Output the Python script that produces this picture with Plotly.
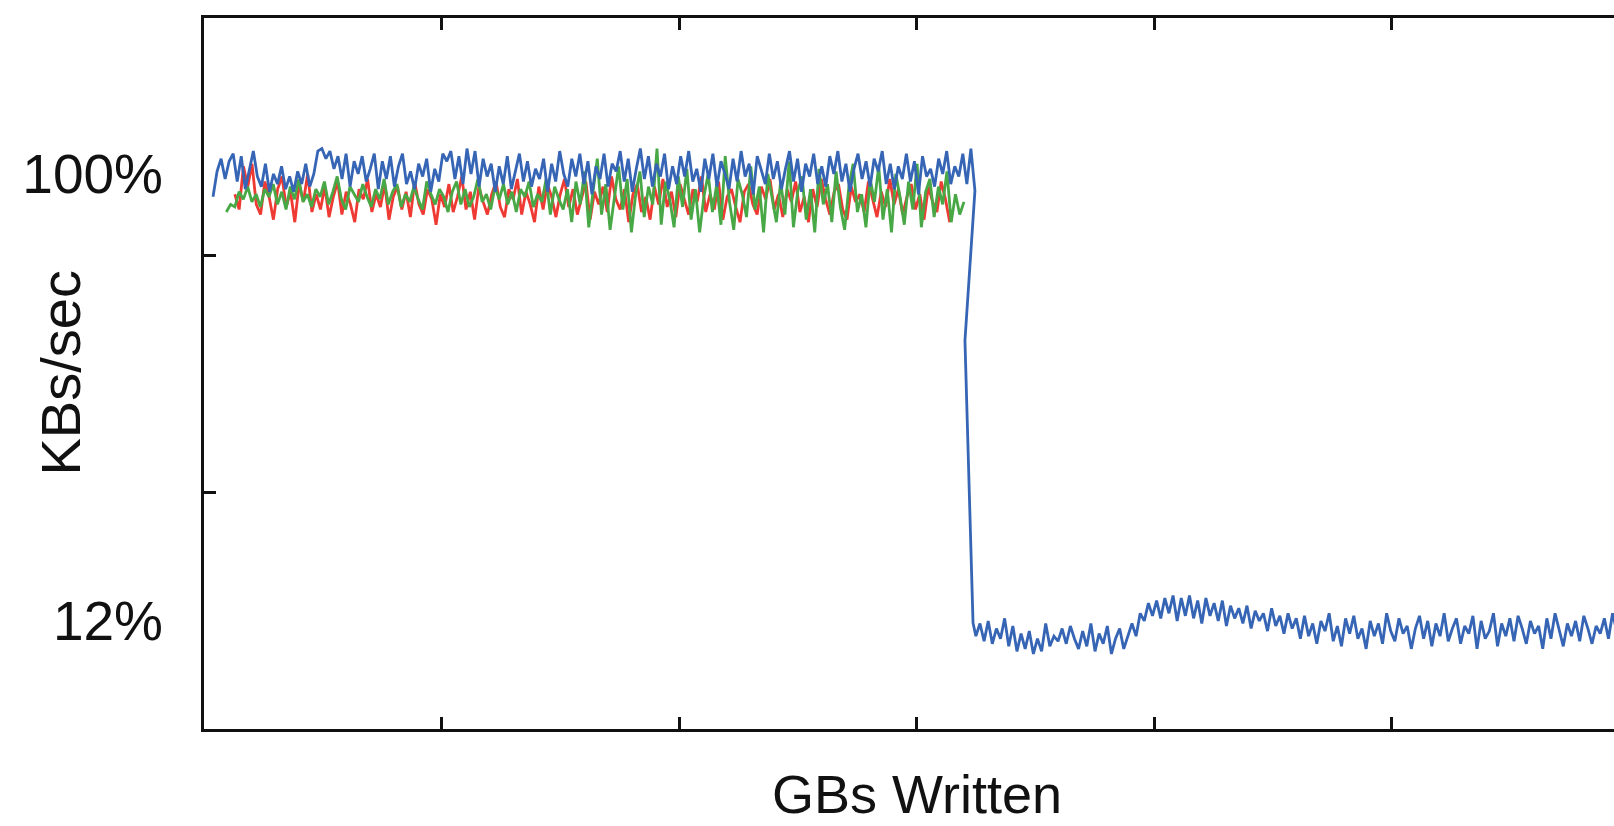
import numpy as np
import plotly.graph_objects as go

# ---------------- data ----------------
# x in "GBs written" tick units (ticks at 1..5), y in % of full throughput

blue_high_start, blue_high_end = 0.038, 3.246
blue_high = [
    95.5, 100.5, 103.0, 99.0, 102.5, 104.0, 98.5, 103.5, 97.0, 101.0,
    104.5, 99.5, 97.5, 102.0, 96.5, 100.0, 98.0, 101.5, 97.0, 99.5,
    96.5, 100.5, 98.0, 102.0, 97.5, 100.0, 104.5, 105.0, 103.0, 104.5,
    101.0, 103.5, 99.0, 104.0, 97.5, 102.5, 100.0, 103.5, 98.5, 101.0,
    104.0, 97.0, 102.5, 99.0, 103.5, 97.5, 101.5, 104.0, 98.0, 100.5,
    97.0, 102.0, 99.5, 103.0, 96.5, 101.0, 98.5, 104.0, 102.5, 104.5,
    99.0, 103.5, 98.0, 105.0, 100.0, 104.5, 97.5, 103.0, 99.5, 102.0,
    96.5, 101.5, 98.0, 103.5, 97.0, 100.5, 104.0, 98.5, 102.5, 97.5,
    101.0, 99.0, 103.0, 96.5, 102.0, 98.5, 104.5, 100.0, 97.5, 103.0,
    99.5, 104.0, 98.0, 102.5, 96.0, 101.5, 99.0, 104.0, 97.5, 102.0,
    100.5, 104.5, 98.5, 103.0, 96.5, 101.0, 105.0, 99.0, 103.5, 97.5,
    102.0, 99.5, 104.0, 97.0, 101.5, 98.0, 103.5, 99.5, 104.5, 98.5,
    101.0, 96.5, 103.0, 99.0, 104.0, 97.5, 102.5, 100.0, 97.0, 103.0,
    98.5, 104.5, 99.5, 102.0, 96.0, 103.5, 100.5, 98.0, 104.0, 99.0,
    102.5, 97.0, 101.0, 104.5, 98.5, 103.0, 96.5, 102.0, 99.5, 104.0,
    98.0, 101.5, 97.5, 103.5, 100.0, 104.5, 98.5, 102.0, 96.5, 101.0,
    104.0, 99.0, 102.5, 97.5, 103.0, 100.5, 104.5, 98.0, 102.0, 97.0,
    101.5, 99.0, 104.0, 98.5, 102.5, 96.0, 103.5, 99.5, 101.0, 97.5,
    103.0, 100.0, 104.5, 98.0, 101.5, 99.5, 104.0, 98.0, 105.0, 96.7,
]
# the drop from the fast to the slow regime
blue_drop_x = [3.204, 3.238]
blue_drop_y = [67.2, 11.6]

blue_low_start, blue_low_end = 3.25, 6.0
blue_low = [
    9.0, 11.5, 8.0, 12.0, 7.5, 10.5, 8.5, 12.5, 7.0, 11.0,
    6.0, 9.5, 6.5, 10.0, 5.5, 8.5, 6.0, 11.5, 7.0, 9.0,
    8.0, 10.5, 7.5, 11.0, 8.5, 6.5, 10.0, 7.0, 11.5, 6.0,
    9.5, 7.5, 11.0, 5.5, 8.5, 10.5, 6.5, 9.0,
    11.5, 9.0, 13.5, 12.0, 15.5, 13.0, 16.0, 12.5, 16.5, 13.5, 17.0, 12.0, 16.5,
    13.0, 17.0, 12.5, 16.0, 11.5, 16.5, 13.0, 15.5, 12.0, 16.0,
    11.0, 15.0, 12.5, 14.5, 11.5, 15.0, 10.5, 14.0, 12.0, 13.5,
    10.0, 14.5, 11.0, 13.0, 9.5, 13.5, 10.5,
    12.5, 8.5, 13.0, 9.0, 11.5, 7.5, 12.0, 10.0, 13.5, 8.0,
    11.0, 7.0, 12.5, 9.5, 13.0, 8.5, 10.5, 6.5, 12.0, 9.0,
    11.5, 7.5, 13.5, 10.0, 8.0, 12.5, 9.5, 11.0, 6.5, 10.5,
    13.0, 8.5, 12.0, 7.0, 11.5, 9.0, 13.5, 8.0, 10.5, 12.5,
    7.5, 11.0, 9.5, 13.0, 6.5, 12.0, 8.5, 10.0, 13.5, 7.0,
    11.5, 9.0, 12.5, 8.0, 13.0, 10.5, 7.5, 12.0, 9.5, 11.0,
    6.5, 12.5, 8.5, 13.5, 10.0, 7.0, 11.5, 9.0, 12.0, 8.0,
    13.0, 10.5, 7.5, 11.0, 9.5, 12.5, 8.5, 13.5, 10.0, 7.5,
    11.5, 9.0,
]

red_start, red_end = 0.13, 3.14
red = [
    96.0, 93.0, 101.5, 97.5, 102.0, 94.0, 92.0, 98.5, 95.5, 91.0,
    97.0, 99.5, 93.5, 96.5, 90.5, 98.0, 94.5, 100.0, 92.5, 96.0,
    93.0, 97.5, 91.5, 95.5, 98.5, 92.0, 96.5, 94.0, 90.5, 97.0,
    95.0, 99.0, 92.5, 96.0, 93.5, 98.0, 91.0, 95.5, 97.5, 93.0,
    96.5, 91.5, 98.5, 94.0, 92.0, 97.0, 95.0, 90.0, 96.0, 93.5,
    98.0, 92.5, 95.5, 99.5, 93.0, 96.5, 91.0, 97.5, 94.5, 92.0,
    96.0, 98.5, 93.5, 91.5, 97.0, 95.0, 99.0, 92.0, 96.5, 94.0,
    90.5, 97.5, 93.0, 98.0, 95.5, 91.5, 96.0, 99.0, 93.5, 97.0,
    92.0, 95.0, 98.5, 91.0, 96.5, 94.0, 97.5, 92.5, 99.5, 95.0,
    93.0, 97.0, 90.5, 96.0, 98.0, 92.5, 95.5, 91.0, 97.5, 94.0,
    99.0, 93.5, 96.5, 91.5, 98.0, 95.0, 92.0, 97.0, 94.5, 99.5,
    92.5, 96.0, 93.0, 98.5, 91.0, 95.5, 97.0, 93.5, 90.5, 96.5,
    98.0, 94.0, 92.0, 97.5, 95.0, 99.0, 93.0, 96.0, 91.5, 97.0,
    94.5, 98.5, 92.5, 95.5, 90.5, 97.0, 93.5, 99.0, 95.0, 92.0,
    96.5, 98.0, 93.0, 91.0, 97.5, 94.5, 96.0, 92.5, 98.5, 95.0,
    91.5, 96.5, 93.5, 99.0, 94.0, 97.0, 92.0, 95.5, 98.0, 93.0,
    96.0, 91.0, 97.5, 94.5, 92.5, 98.5, 95.0, 90.5,
]

green_start, green_end = 0.094, 3.2
green = [
    92.5, 94.0, 93.5, 96.5, 95.0, 97.5, 94.5, 96.0, 93.5, 97.0,
    95.5, 98.0, 94.0, 96.5, 93.0, 97.5, 95.0, 99.0, 94.5, 96.0,
    93.5, 97.0, 95.5, 98.5, 94.0, 96.5, 99.5, 95.0, 93.0, 97.5,
    96.0, 94.5, 98.0, 95.5, 93.5, 97.0, 95.0, 99.0, 94.0, 96.5,
    98.0, 93.5, 96.0, 94.5, 97.5, 95.0, 93.0, 98.5, 96.0, 94.0,
    97.0, 95.5, 92.5, 96.5, 98.5, 94.0, 97.0, 93.5, 95.5, 99.0,
    94.5, 96.0, 93.0, 97.5, 95.0, 98.0, 94.0, 96.5, 92.5, 97.0,
    95.5, 98.5, 93.5, 96.0, 94.5, 99.0, 92.0, 97.5, 95.0, 93.0,
    97.0, 90.5, 98.5, 94.0, 100.5, 89.5, 96.5, 103.0, 92.0, 98.0,
    89.0, 95.5, 101.5, 93.0, 99.0, 88.5, 96.0, 100.5, 91.5, 97.5,
    94.0, 105.0, 90.0, 98.5, 95.0, 89.5, 99.5, 93.5, 101.0, 91.0,
    97.0, 88.5, 95.5, 100.0, 92.5, 98.0, 90.0, 103.5, 94.5, 89.0,
    99.0, 96.0, 91.5, 101.5, 93.0, 97.5, 88.5, 100.0, 95.0, 90.5,
    98.5, 92.0, 102.5, 89.5, 96.5, 99.5, 91.0, 97.0, 88.5, 101.0,
    94.0, 98.0, 90.5, 100.5, 93.5, 89.0, 97.5, 102.0, 92.5, 96.0,
    89.5, 99.0, 94.5, 101.5, 91.0, 97.0, 88.5, 100.0, 95.5, 90.0,
    98.5, 93.0, 102.0, 89.5, 96.5, 99.0, 91.5, 97.5, 94.0, 100.5,
    90.5, 96.0, 92.0, 94.5,
]

x_tick_vals = [1, 2, 3, 4, 5]
y_tick_vals = [37.38, 84.04]
y_label_vals = [100, 12]
y_label_text = ["100%", "12%"]
x_title = "GBs Written"
y_title = "KBs/sec"

# ---------------- build traces ----------------
blue_x = np.concatenate([
    np.linspace(blue_high_start, blue_high_end, len(blue_high)),
    blue_drop_x,
    np.linspace(blue_low_start, blue_low_end, len(blue_low)),
])
blue_y = list(blue_high) + blue_drop_y + list(blue_low)
red_x = np.linspace(red_start, red_end, len(red))
green_x = np.linspace(green_start, green_end, len(green))

RED = "#EE3A33"
GREEN = "#47A845"
BLUE = "#3565B4"
LW = 2.8

fig = go.Figure()
fig.add_trace(go.Scatter(x=red_x, y=red, mode="lines", line=dict(color=RED, width=LW), showlegend=False))
fig.add_trace(go.Scatter(x=green_x, y=green, mode="lines", line=dict(color=GREEN, width=LW), showlegend=False))
fig.add_trace(go.Scatter(x=blue_x, y=blue_y, mode="lines", line=dict(color=BLUE, width=LW), showlegend=False))

W, H = 1614, 826
L, T, B = 204, 18, 97
unit_px = 237.5
x_max = (W - L) / unit_px
y_range = [-9.28, 130.7]

FONT = "Liberation Sans, Arial, Helvetica, sans-serif"
TXT = "#111111"

fig.update_layout(
    width=W, height=H,
    margin=dict(l=L, r=0, t=T, b=B, pad=0),
    paper_bgcolor="white", plot_bgcolor="white",
    font=dict(family=FONT, color=TXT, size=54),
    xaxis=dict(
        range=[0, x_max], showline=True, linewidth=3, linecolor="#111111",
        mirror="ticks", ticks="inside", ticklen=12, tickwidth=2.5, tickcolor="#111111",
        tickvals=x_tick_vals, showticklabels=False, showgrid=False, zeroline=False,
    ),
    yaxis=dict(
        range=y_range, showline=True, linewidth=3, linecolor="#111111",
        mirror=False, ticks="inside", ticklen=12, tickwidth=2.5, tickcolor="#111111",
        tickvals=y_tick_vals, showticklabels=False, showgrid=False, zeroline=False,
    ),
    yaxis2=dict(
        range=y_range, overlaying="y", side="left", anchor="x",
        showline=False, ticks="", tickvals=y_label_vals, ticktext=y_label_text,
        tickfont=dict(family=FONT, size=55, color=TXT), ticklabelstandoff=40,
        showgrid=False, zeroline=False,
    ),
    annotations=[
        dict(text=y_title, xref="paper", yref="paper", x=(60 - L) / (W - L), y=0.5,
             xanchor="center", yanchor="middle", textangle=-90, showarrow=False,
             font=dict(family=FONT, size=56, color=TXT)),
        dict(text=x_title, xref="x", yref="paper", x=3, y=(729 - 826) / (H - T - B),
             xanchor="center", yanchor="bottom", showarrow=False,
             font=dict(family=FONT, size=54, color=TXT)),
    ],
)
# dummy trace to activate yaxis2 labels
fig.add_trace(go.Scatter(x=[None], y=[None], yaxis="y2", showlegend=False, hoverinfo="skip"))

fig.write_html(
    "out.html",
    config={"displayModeBar": False},
    post_script="document.body.style.margin='0';document.body.style.overflow='hidden';",
)
